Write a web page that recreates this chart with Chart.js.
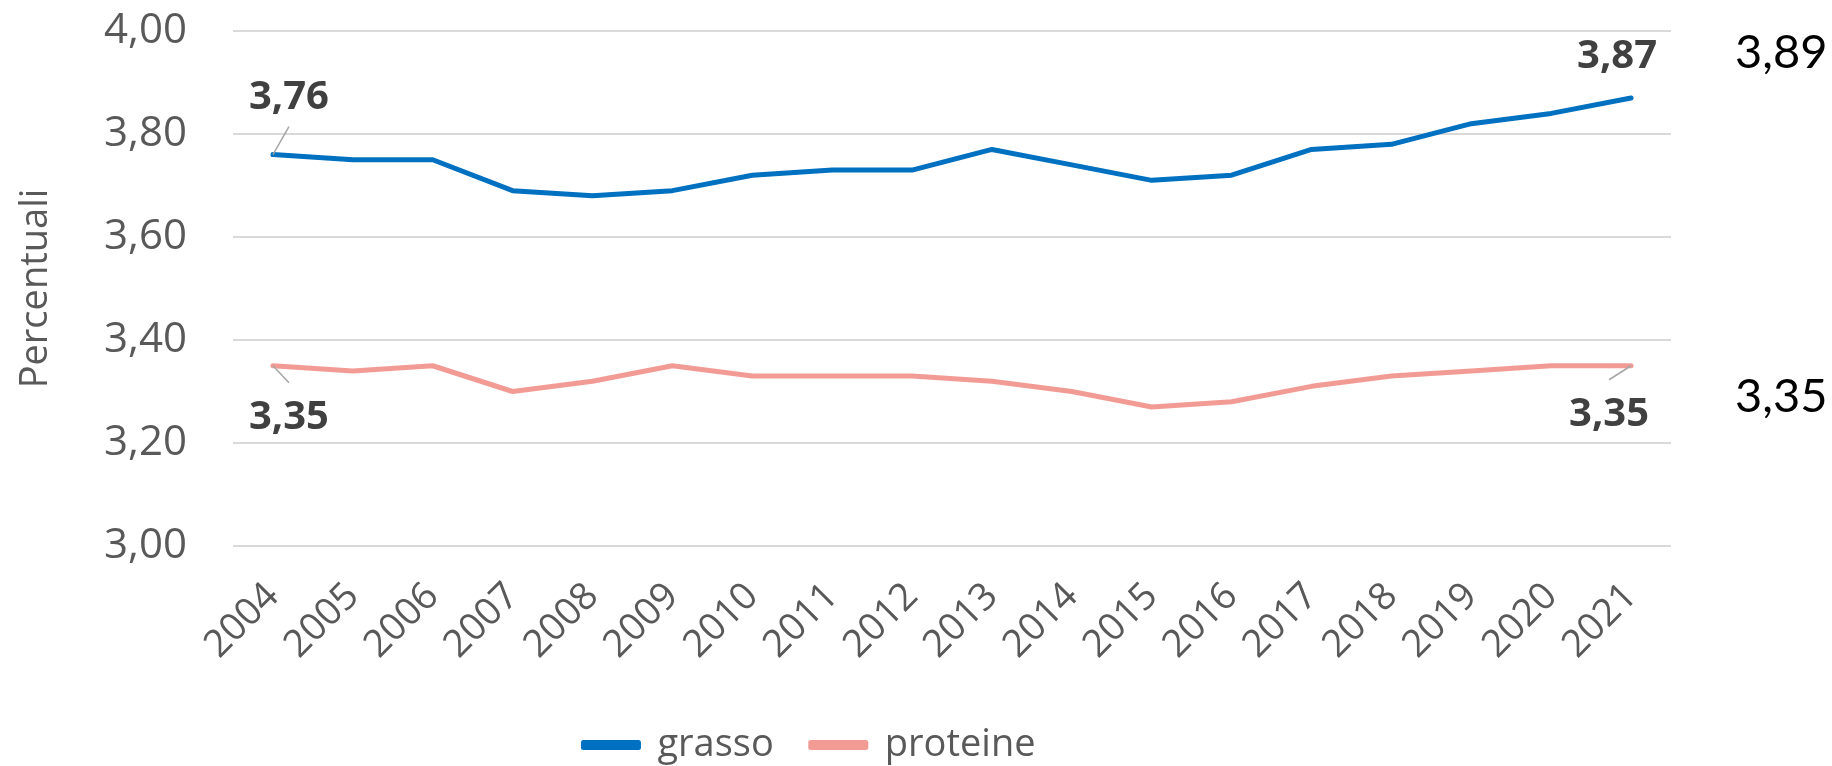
<!doctype html>
<html>
<head>
    <title>Grasso e proteine</title>
    <script src="https://cdn.jsdelivr.net/npm/chart.js@4.4.1/dist/chart.umd.min.js"></script>
    <style>
    html, body { margin: 0; padding: 0; background: #fff; }
    #container { width: 1832px; height: 766px; }
    </style>
</head>
<body>
    <div id="container">
        <canvas id="canvas"></canvas>
    </div>
    <script>
        // dati
        var anni = ["2004", "2005", "2006", "2007", "2008", "2009", "2010", "2011", "2012",
                    "2013", "2014", "2015", "2016", "2017", "2018", "2019", "2020", "2021"];
        var grasso = [3.76, 3.75, 3.75, 3.69, 3.68, 3.69, 3.72, 3.73, 3.73,
                      3.77, 3.74, 3.71, 3.72, 3.77, 3.78, 3.82, 3.84, 3.87];
        var proteine = [3.35, 3.34, 3.35, 3.30, 3.32, 3.35, 3.33, 3.33, 3.33,
                        3.32, 3.30, 3.27, 3.28, 3.31, 3.33, 3.34, 3.35, 3.35];
        var yMin = 3.00;
        var yMax = 4.00;
        var yStep = 0.20;
        // testi liberi a destra del grafico
        var noteDestra = ["3,89", "3,35"];

        function virgola(v, dec) {
            return v.toFixed(dec).replace('.', ',');
        }

        // etichette sui punti (primo e ultimo anno), con linea guida
        var etichette = [
            { ds: 0, idx: 0, dx: 16, dy: -57, leader: true },
            { ds: 1, idx: 0, dx: 16, dy: 52, leader: true },
            { ds: 0, idx: anni.length - 1, dx: -14, dy: -41, leader: false },
            { ds: 1, idx: anni.length - 1, dx: -22, dy: 49, leader: true }
        ];

        var pluginEtichette = {
            id: 'etichette',
            afterDatasetsDraw: function(chart) {
                var ctx = chart.ctx;
                ctx.save();
                etichette.forEach(function(e) {
                    var pt = chart.getDatasetMeta(e.ds).data[e.idx];
                    var val = chart.data.datasets[e.ds].data[e.idx];
                    var tx = pt.x + e.dx, ty = pt.y + e.dy;
                    if (e.leader) {
                        ctx.strokeStyle = '#a6a6a6';
                        ctx.lineWidth = 1.5;
                        ctx.beginPath();
                        ctx.moveTo(pt.x, pt.y);
                        var ly = e.dy < 0 ? ty + 29 : ty - 35;
                        ctx.lineTo(pt.x + e.dx, ly);
                        ctx.stroke();
                    }
                    ctx.font = 'bold 40px "Open Sans"';
                    ctx.fillStyle = '#404040';
                    ctx.textAlign = 'center';
                    ctx.textBaseline = 'middle';
                    ctx.fillText(virgola(val, 2), tx, ty);
                });
                // note a destra
                ctx.font = '47px Lato';
                ctx.fillStyle = '#000000';
                ctx.textAlign = 'left';
                ctx.textBaseline = 'middle';
                ctx.fillText(noteDestra[0], chart.chartArea.right + 64, 53);
                ctx.fillText(noteDestra[1], chart.chartArea.right + 64, 397);
                ctx.restore();
            }
        };

        var lineChartData = {
            labels: anni,
            datasets: [{
                label: 'grasso',
                data: grasso,
                borderColor: '#0070c0',
                backgroundColor: '#0070c0',
                borderWidth: 5,
                pointRadius: 0,
                borderCapStyle: 'round',
                borderJoinStyle: 'round',
                tension: 0
            }, {
                label: 'proteine',
                data: proteine,
                borderColor: '#f29b95',
                backgroundColor: '#f29b95',
                borderWidth: 5,
                pointRadius: 0,
                borderCapStyle: 'round',
                borderJoinStyle: 'round',
                tension: 0
            }]
        };

        window.onload = function() {
            var ctx = document.getElementById("canvas").getContext("2d");
            window.myLine = new Chart(ctx, {
                type: 'line',
                data: lineChartData,
                plugins: [pluginEtichette],
                options: {
                    responsive: true,
                    maintainAspectRatio: false,
                    animation: false,
                    layout: {
                        padding: { left: -52, right: 161, top: 31, bottom: -8 }
                    },
                    plugins: {
                        legend: {
                            position: 'bottom',
                            labels: {
                                boxWidth: 55,
                                boxHeight: 5,
                                padding: 37,
                                color: '#595959',
                                font: { family: '"Open Sans"', size: 38 }
                            }
                        },
                        tooltip: { enabled: false }
                    },
                    scales: {
                        x: {
                            offset: true,
                            grid: { display: false },
                            border: { display: false },
                            afterFit: function(scale) { scale.height = 143; },
                            ticks: {
                                autoSkip: false,
                                maxRotation: 45,
                                minRotation: 45,
                                padding: 20,
                                color: '#595959',
                                font: { family: '"Open Sans"', size: 38 }
                            }
                        },
                        y: {
                            min: yMin,
                            max: yMax,
                            afterFit: function(scale) { scale.width = 285; },
                            grid: { color: '#d9d9d9', lineWidth: 2, drawTicks: true, tickLength: 46, tickColor: 'rgba(0,0,0,0)' },
                            border: { display: false },
                            ticks: {
                                stepSize: yStep,
                                padding: 0,
                                color: '#595959',
                                font: { family: '"Open Sans"', size: 42 },
                                callback: function(v) { return virgola(v, 2); }
                            },
                            title: {
                                display: true,
                                text: 'Percentuali',
                                color: '#595959',
                                padding: { top: 65, bottom: 0 },
                                font: { family: '"Open Sans"', size: 38 }
                            }
                        }
                    }
                }
            });
        };
    </script>
</body>
</html>
